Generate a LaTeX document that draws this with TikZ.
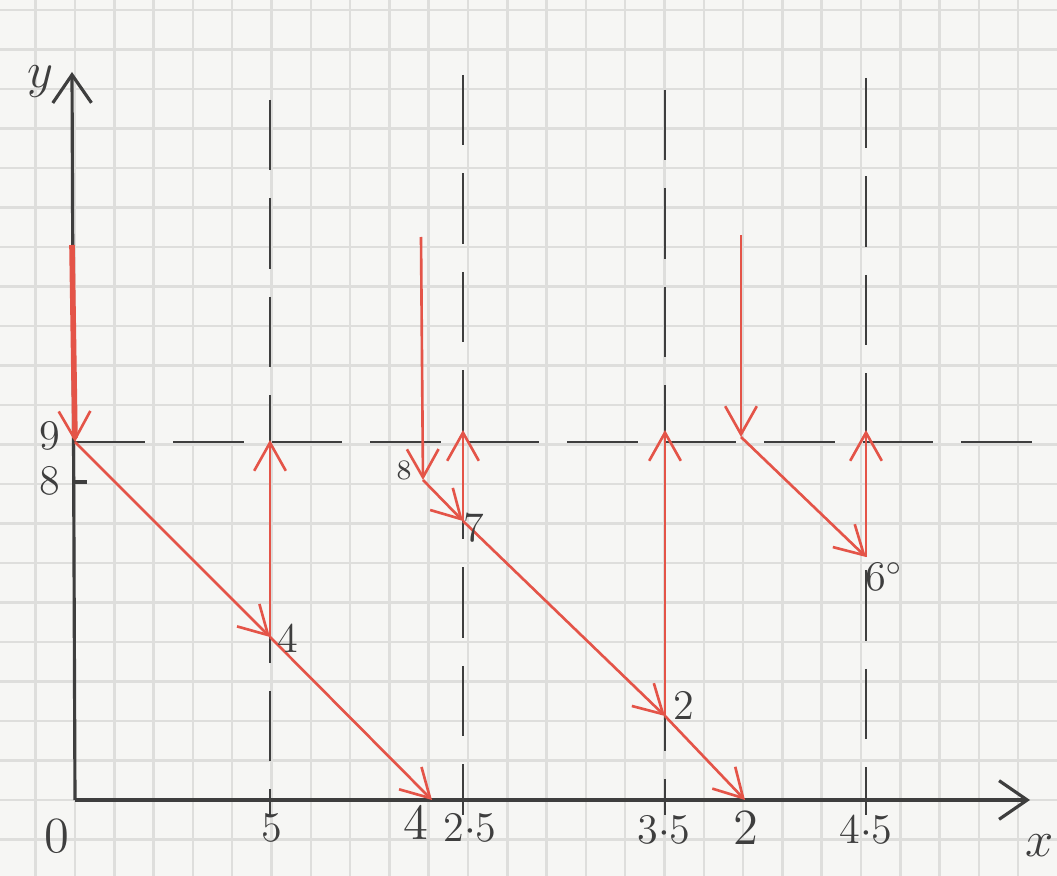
\documentclass[tikz,border=0pt]{standalone}
\usetikzlibrary{arrows.meta}
\definecolor{paper}{RGB}{246,246,244}
\definecolor{gridgrey}{RGB}{222,222,220}
\definecolor{pen}{RGB}{62,62,62}
\definecolor{redpen}{RGB}{228,84,72}
\begin{document}
\begin{tikzpicture}[x=0.01cm,y=-0.01cm,
  gridline/.style={gridgrey,line width=0.7pt},
  axis/.style={pen,line width=0.9pt},
  guide/.style={pen,line width=0.8pt,dash pattern=on 20pt off 8pt},
  move/.style={redpen,line width=0.75pt,-{Straight Barb[length=8pt,width=9pt,line width=0.75pt]}},
  hand/.style={pen,font=\Large}]
\useasboundingbox (0,0) rectangle (1057,876);
\fill[paper] (0,0) rectangle (1057,876);
\foreach \i in {-1,...,24}
  \draw[gridline] ({75+39.3*\i},0) -- ({75+39.3*\i},876);
\foreach \j in {-1,...,20}
  \draw[gridline] (0,{800-39.5*\j}) -- (1057,{800-39.5*\j});

\coordinate (o) at (75,800);
\coordinate (ytop) at (72,72);
\coordinate (xend) at (1030,800);
\coordinate (nine) at (75,442);
\coordinate (eight) at (75,482);
\coordinate (eighttick) at (87,482);
\coordinate (nineend) at (1050,442);

\draw[guide] (270,100) -- (270,815);
\draw[guide] (463,75) -- (463,815);
\draw[guide] (665,90) -- (665,815);
\draw[guide] (866,78) -- (866,815);
\draw[guide] (nine) -- (nineend);

\draw[axis,-{Straight Barb[length=8pt,width=11pt,line width=0.9pt]}] (o) -- (ytop);
\draw[axis,-{Straight Barb[length=8pt,width=11pt,line width=0.9pt]}] (o) -- (xend);
\draw[axis] (eight) -- (eighttick);

\node[hand] (ly) at (40,82) {$y$};
\node[hand] (lx) at (1040,846) {$x$};
\node[hand,font=\large] (l9) at (50,436) {9};
\node[hand,font=\large] (l8) at (50,481) {8};
\node[hand] (l0) at (57,836) {0};
\node[hand,font=\large] (l5) at (272,828) {5};
\node[hand] (l4x) at (416,822) {4};
\node[hand,font=\large] (l25) at (470,828) {2$\cdot$5};
\node[hand,font=\large] (l35) at (664,830) {3$\cdot$5};
\node[hand] (l2x) at (746,828) {2};
\node[hand,font=\large] (l45) at (866,830) {4$\cdot$5};

\coordinate (a0) at (72,245);
\coordinate (q4) at (270,637);
\coordinate (x4) at (432,800);
\coordinate (t5) at (270,440);
\coordinate (b0) at (421,237);
\coordinate (p8) at (423,480);
\coordinate (p7) at (463,521);
\coordinate (t25) at (463,430);
\coordinate (p2) at (665,716);
\coordinate (t35) at (665,430);
\coordinate (x2) at (745,800);
\coordinate (c0) at (741,235);
\coordinate (c9) at (741,437);
\coordinate (p6) at (866,557);
\coordinate (t45) at (866,430);

\draw[move,line width=1.6pt] (a0) -- (nine);
\draw[move] (nine) -- (q4);
\draw[move] (q4) -- (x4);
\draw[move] (q4) -- (t5);
\draw[move] (b0) -- (p8);
\draw[move] (p8) -- (p7);
\draw[move] (p7) -- (t25);
\draw[move] (p7) -- (p2);
\draw[move] (p2) -- (x2);
\draw[move] (p2) -- (t35);
\draw[move] (c0) -- (c9);
\draw[move] (c9) -- (p6);
\draw[move] (p6) -- (t45);

\node[hand,font=\large] (n4) at (288,638) {4};
\node[hand,font=\footnotesize] (n8) at (404,470) {8};
\node[hand,font=\large] (n7) at (474,528) {7};
\node[hand,font=\large] (n2) at (684,705) {2};
\node[hand,font=\large] (n6) at (884,577) {6$^\circ$};
\end{tikzpicture}
\end{document}
